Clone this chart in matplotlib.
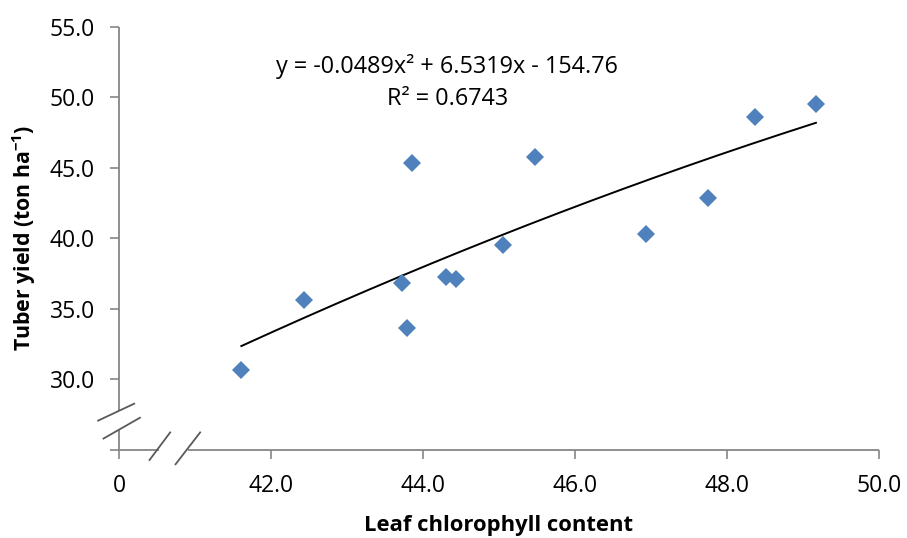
import numpy as np
import matplotlib
matplotlib.use('Agg')
import matplotlib.pyplot as plt

plt.rcParams['font.family'] = ['Open Sans', 'DejaVu Sans']
plt.rcParams['mathtext.default'] = 'regular'

# leaf chlorophyll vs tuber yield
chlorophyll = np.array([41.61, 42.44, 43.72, 43.79, 43.86, 44.30, 44.44,
                        45.05, 45.48, 46.94, 47.75, 48.37, 49.17])
tuber_yield = np.array([30.65, 35.61, 36.86, 33.62, 45.33, 37.29, 37.13,
                        39.50, 45.75, 40.31, 42.87, 48.63, 49.52])

# polynomial trend line as printed on the chart
trend_coef = [-0.0489, 6.5319, -154.76]
r_squared = 0.6743

x_ticks = [40, 42, 44, 46, 48, 50]
x_ticklabels = ['0', '42.0', '44.0', '46.0', '48.0', '50.0']
y_ticks = [25, 30, 35, 40, 45, 50, 55]
y_ticklabels = ['', '30.0', '35.0', '40.0', '45.0', '50.0', '55.0']

W, H = 907, 538
fig = plt.figure(figsize=(W / 100, H / 100), dpi=100)
# axes box in image pixels: left 119, right 879, top 26.7, bottom 450
L, R, T, B = 119, 879, 26.7, 450
ax = fig.add_axes([L / W, 1 - B / H, (R - L) / W, (B - T) / H])

ax.plot(chlorophyll, tuber_yield, 'D', color='#4F81BD', markersize=9.6,
        markeredgewidth=0, zorder=3)

xs = np.linspace(chlorophyll.min(), chlorophyll.max(), 200)
ax.plot(xs, np.polyval(trend_coef, xs), color='black', lw=1.4, zorder=2)

eq = 'y = {:.4f}x² + {:.4f}x - {:.2f}'.format(trend_coef[0], trend_coef[1], -trend_coef[2])
ax.text(44.32, 51.7, eq, ha='center', va='baseline', fontsize=16.8)
ax.text(44.32, 49.43, 'R² = {:.4f}'.format(r_squared), ha='center', va='baseline', fontsize=16.8)

ax.set_xlim(40, 50)
ax.set_ylim(25, 55)
ax.set_xticks(x_ticks)
ax.set_xticklabels(x_ticklabels)
ax.set_yticks(y_ticks)
ax.set_yticklabels(y_ticklabels)
ax.tick_params(labelsize=16.5, length=6.5, width=1.2, color='#868686', pad=11)

for s in ax.spines.values():
    s.set_visible(False)

# hand drawn broken axes, in pixel coords of the image
def px(x, y):
    return ((x - L) / (R - L), (B - y) / (B - T))

axis_col = '#868686'
brk_col = '#5a5a5a'
segs = [((119, 26.7), (119, 410.5), axis_col),
        ((119, 430), (119, 450), axis_col),
        ((119, 450), (159, 450), axis_col),
        ((188, 450), (879, 450), axis_col),
        ((97.3, 421), (135, 403.3), brk_col),
        ((102.7, 439), (140.7, 417.3), brk_col),
        ((149, 460.7), (170.7, 431.7), brk_col),
        ((175, 465), (200.7, 431.7), brk_col)]
for p0, p1, c in segs:
    a, b = px(*p0), px(*p1)
    ax.plot([a[0], b[0]], [a[1], b[1]], color=c, lw=1.3,
            transform=ax.transAxes, clip_on=False, solid_capstyle='butt')

ax.set_xlabel('Leaf chlorophyll content', fontsize=15.8, fontweight='bold', labelpad=12)
ax.set_ylabel(r'Tuber yield (ton ha$^{\mathregular{-1}}$)', fontsize=15.3,
              fontweight='bold', va='center')
ax.yaxis.set_label_coords(-0.125, 0.5)

fig.savefig('out.png', dpi=100)
